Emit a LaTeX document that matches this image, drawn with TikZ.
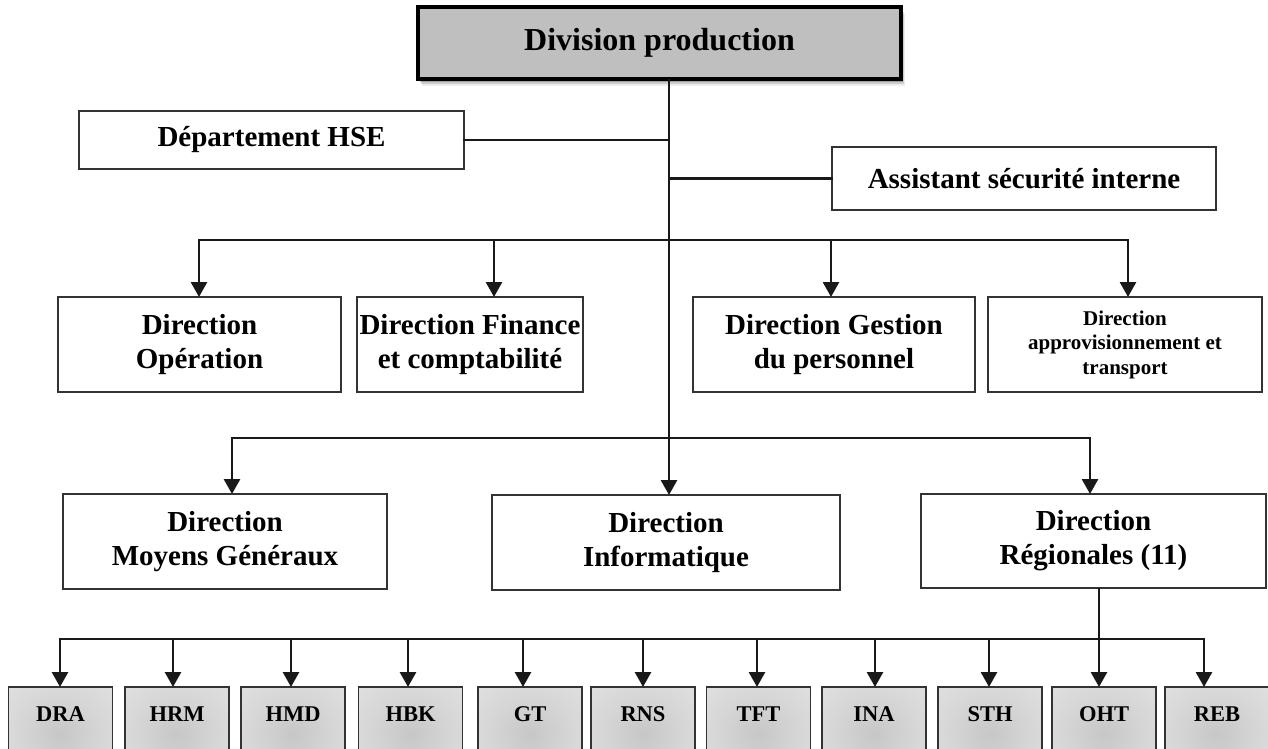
\documentclass[tikz,border=0pt]{standalone}
\usepackage{fontspec}
\setmainfont{Liberation Serif}
\usetikzlibrary{arrows.meta,shadows}

% soft grey glow used inside the regional boxes
\pgfdeclareradialshading{leafglow}{\pgfpoint{0bp}{0bp}}{%
  color(0bp)=(black!22); color(20bp)=(black!16); color(50bp)=(black!9); color(100bp)=(black!9)}

\definecolor{topgray}{HTML}{BFBFBF}

\tikzset{
  box/.style={draw=black!80, line width=1.3pt, fill=white, inner sep=0pt, outer sep=0pt,
              align=center, font=\bfseries\fontsize{29}{34}\selectfont},
  smallbox/.style={box, font=\bfseries\fontsize{21}{24.5}\selectfont},
  topbox/.style={box, fill=topgray, draw=black, line width=3.5pt,
              font=\bfseries\fontsize{32}{38}\selectfont,
              drop shadow={shadow xshift=2pt,shadow yshift=-3pt,opacity=0.22,fill=black},
              drop shadow={shadow xshift=3pt,shadow yshift=-5pt,opacity=0.14,fill=black},
              drop shadow={shadow xshift=4pt,shadow yshift=-7pt,opacity=0.07,fill=black}},
  leaf/.style={draw=black!80, line width=1.3pt, shading=leafglow, inner sep=0pt, outer sep=0pt,
              minimum width=104pt, text height=34pt, text depth=60pt, anchor=north,
              font=\bfseries\fontsize{22.5}{26}\selectfont},
  bus/.style={line width=2.8pt, draw=black!90, line cap=rect},
  arr/.style={line width=2.8pt, draw=black!90, -{Triangle[width=16pt,length=15pt]}},
}

\begin{document}
\begin{tikzpicture}[x=1pt,y=-1pt]
\path[use as bounding box, clip] (0,0) rectangle (1268,749);

% head of the chart
\node[topbox, minimum width=483pt, minimum height=72pt] (top) at (659.5,43) {Division production};

% staff units attached to the trunk
\node[box, minimum width=385pt, minimum height=58pt] (hse) at (271.5,140) {Département HSE};
\node[box, minimum width=384pt, minimum height=63pt] (asst) at (1024,178.5) {Assistant sécurité interne};

% second level
\node[box, minimum width=283pt, minimum height=95pt] (ope) at (199.5,344.5) {Direction\\Opération};
\node[box, minimum width=226pt, minimum height=95pt] (fin) at (470,344.5) {Direction Finance\\et comptabilité};
\node[box, minimum width=282pt, minimum height=95pt] (gest) at (834,344.5) {Direction Gestion\\du personnel};
\node[smallbox, minimum width=274pt, minimum height=95pt] (appro) at (1125,344.5) {Direction\\approvisionnement et\\transport};

% third level
\node[box, minimum width=324pt, minimum height=95pt] (moy) at (225,541.5) {Direction\\Moyens Généraux};
\node[box, minimum width=348pt, minimum height=95pt] (info) at (666,542.5) {Direction\\Informatique};
\node[box, minimum width=345pt, minimum height=94pt] (reg) at (1093.5,541) {Direction\\Régionales (11)};

% trunk
\coordinate (tk) at (669,79);
\draw[arr] (tk) -- (tk |- info.north);
\draw[bus] (hse.east) -- (hse.east -| tk);
\draw[bus] (tk |- asst.west) -- (asst.west);

% second-level bus
\coordinate (kope) at (199,240);
\coordinate (kfin) at (494,240);
\coordinate (kgest) at (831,240);
\coordinate (kappro) at (1128,240);
\draw[bus] (kope) -- (kappro);
\foreach \k/\n in {kope/ope,kfin/fin,kgest/gest,kappro/appro}
  \draw[arr] (\k) -- (\k |- \n.north);

% third-level bus
\coordinate (kmoy) at (232,438);
\coordinate (kreg) at (1090,438);
\draw[bus] (kmoy) -- (kreg);
\draw[arr] (kmoy) -- (kmoy |- moy.north);
\draw[arr] (kreg) -- (kreg |- reg.north);

% regional directions
\foreach \n/\cx/\ax in {DRA/60.5/60, HRM/177/173, HMD/293/291, HBK/410.5/408, GT/530/523,
                        RNS/643/643, TFT/758.5/757, INA/874/875, STH/990/989, OHT/1104/1099, REB/1217/1204}{
  \node[leaf] (\n) at (\cx,687) {\n};
  \coordinate (k\n) at (\ax,639);
}
\draw[bus] (kDRA) -- (kREB);
\draw[line width=2.8pt, draw=black!90] (reg.south -| kOHT) -- (kOHT);
\foreach \n in {DRA,HRM,HMD,HBK,GT,RNS,TFT,INA,STH,OHT,REB}
  \draw[arr] (k\n) -- (k\n |- \n.north);
\end{tikzpicture}
\end{document}
